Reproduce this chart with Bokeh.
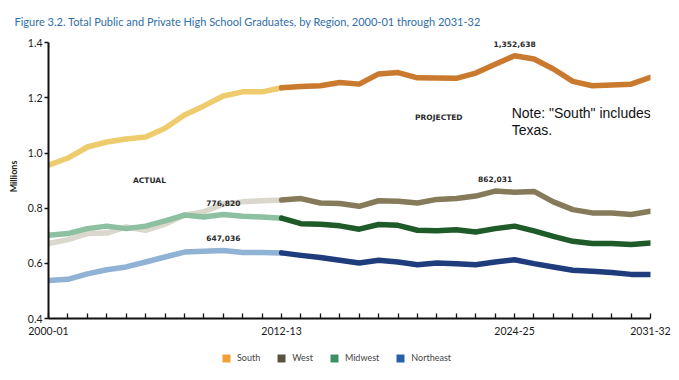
from bokeh.plotting import figure
from bokeh.layouts import column
from bokeh.models import Range1d, FixedTicker, Label, Legend, LegendItem, PrintfTickFormatter
from bokeh.embed import file_html
from bokeh.resources import INLINE

# ---- data (millions of graduates), index 0 = 2000-01 ... 31 = 2031-32; 12 = 2012-13 (last actual)
year_index = list(range(32))
last_actual = 12

south = [0.956, 0.982, 1.022, 1.040, 1.051, 1.058, 1.090, 1.138, 1.171, 1.207, 1.222, 1.222, 1.237,
         1.241, 1.244, 1.256, 1.250, 1.287, 1.292, 1.273, 1.272, 1.271, 1.290, 1.322, 1.353, 1.341,
         1.305, 1.260, 1.244, 1.247, 1.250, 1.275]
west = [0.672, 0.686, 0.708, 0.710, 0.732, 0.720, 0.742, 0.775, 0.787, 0.815, 0.823, 0.827, 0.830,
        0.835, 0.819, 0.817, 0.807, 0.827, 0.825, 0.819, 0.832, 0.835, 0.844, 0.862, 0.858, 0.861,
        0.823, 0.795, 0.783, 0.783, 0.777, 0.789]
midwest = [0.702, 0.708, 0.726, 0.735, 0.726, 0.735, 0.754, 0.775, 0.768, 0.777, 0.771, 0.768, 0.764,
           0.744, 0.742, 0.736, 0.724, 0.741, 0.738, 0.720, 0.718, 0.722, 0.714, 0.726, 0.735, 0.718,
           0.698, 0.680, 0.672, 0.672, 0.668, 0.674]
northeast = [0.538, 0.542, 0.562, 0.577, 0.587, 0.605, 0.623, 0.641, 0.644, 0.647, 0.639, 0.639, 0.638,
             0.629, 0.621, 0.611, 0.601, 0.611, 0.605, 0.595, 0.601, 0.599, 0.595, 0.605, 0.613, 0.599,
             0.587, 0.575, 0.571, 0.567, 0.560, 0.560]

regions = ["South", "West", "Midwest", "Northeast"]
series = [south, west, midwest, northeast]
actual_colors = ["#eecb6c", "#dad7cd", "#8cc0a1", "#90b2d4"]
projected_colors = ["#c97a2e", "#857b5a", "#1f5a29", "#1f3c7d"]
legend_colors = ["#f0a033", "#5a5142", "#3d9062", "#2461a9"]

peak_labels = ["1,352,638", "862,031", "776,820", "647,036"]
peak_index = [24, 23, 9, 9]
peak_series = [0, 1, 2, 3]

xtick_pos = [0, 12, 24, 31]
xtick_labels = ["2000-01", "2012-13", "2024-25", "2031-32"]
ytick_pos = [0.4, 0.6, 0.8, 1.0, 1.2, 1.4]

title_text = "Figure 3.2. Total Public and Private High School Graduates, by Region, 2000-01 through 2031-32"

# ---- main figure
p = figure(width=676, height=342, output_backend="svg", toolbar_location=None,
           title=title_text,
           x_range=Range1d(0, 31), y_range=Range1d(0.4, 1.43),
           min_border_left=48, min_border_right=26, min_border_top=34, min_border_bottom=24)
p.title.align = "left"
p.title.offset = -34
p.title.standoff = 13
p.title.text_font = "Lato"
p.title.text_font_size = "11px"
p.title.text_font_style = "normal"
p.title.text_color = "#2f6ea9"
p.outline_line_color = None
p.xgrid.visible = False
p.ygrid.visible = False
p.background_fill_color = "white"

for s, ac, pc in zip(series, actual_colors, projected_colors):
    p.line(year_index[:last_actual + 1], s[:last_actual + 1], line_color=ac, line_width=5.5,
           line_join="round", line_cap="round")
    p.line(year_index[last_actual:], s[last_actual:], line_color=pc, line_width=5.5,
           line_join="round", line_cap="round")

# axes
xa = p.xaxis[0]
xa.ticker = FixedTicker(ticks=year_index)
overrides = {i: "" for i in year_index}
overrides.update({pos: lab for pos, lab in zip(xtick_pos, xtick_labels)})
xa.major_label_overrides = overrides
xa.major_tick_in = 5
xa.major_tick_out = 0
xa.minor_tick_line_color = None
xa.axis_line_width = 2
xa.axis_line_color = "#111111"
xa.major_tick_line_color = "#111111"
xa.major_tick_line_width = 1.3
xa.major_label_standoff = 8
xa.major_label_text_font = "Lato"
xa.major_label_text_font_size = "10.5px"
xa.major_label_text_color = "#1a1a1a"

ya = p.yaxis[0]
ya.ticker = FixedTicker(ticks=ytick_pos)
ya.bounds = (0.4, 1.4)
ya.formatter = PrintfTickFormatter(format="%.1f")
ya.major_tick_in = 0
ya.major_tick_out = 4
ya.minor_tick_line_color = None
ya.axis_line_width = 2
ya.axis_line_color = "#111111"
ya.major_tick_line_color = "#111111"
ya.major_tick_line_width = 1.3
ya.major_label_standoff = 2
ya.major_label_text_font = "Lato"
ya.major_label_text_font_size = "10.5px"
ya.major_label_text_color = "#1a1a1a"
ya.axis_label = "Millions"
ya.axis_label_text_font = "Lato"
ya.axis_label_text_font_size = "9px"
ya.axis_label_text_font_style = "bold"
ya.axis_label_text_color = "#222222"
ya.axis_label_standoff = 6

# peak value labels
for lab, idx, si in zip(peak_labels, peak_index, peak_series):
    p.add_layout(Label(x=idx, y=series[si][idx], text=lab, y_offset=12, text_align="center",
                       text_baseline="middle", text_font="DejaVu Sans", text_font_size="7.5px",
                       text_font_style="bold", text_color="#2a2a2a"))

# section labels
p.add_layout(Label(x=5.2, y=0.90, text="ACTUAL", text_align="center", text_baseline="middle",
                   text_font="DejaVu Sans", text_font_size="7.5px", text_font_style="bold",
                   text_color="#2a2a2a"))
p.add_layout(Label(x=20.1, y=1.13, text="PROJECTED", text_align="center", text_baseline="middle",
                   text_font="DejaVu Sans", text_font_size="7.5px", text_font_style="bold",
                   text_color="#2a2a2a"))

# note
p.add_layout(Label(x=23.85, y=1.147, text="Note: \"South\" includes", text_align="left",
                   text_baseline="middle", text_font="Liberation Sans", text_font_size="14px",
                   text_color="#111111"))
p.add_layout(Label(x=23.85, y=1.085, text="Texas.", text_align="left",
                   text_baseline="middle", text_font="Liberation Sans", text_font_size="14px",
                   text_color="#111111"))

# ---- legend strip below the chart
lg = figure(width=676, height=34, output_backend="svg", toolbar_location=None,
            x_range=Range1d(0, 676), y_range=Range1d(0, 34),
            x_axis_type=None, y_axis_type=None, min_border=0)
lg.title.visible = False
lg.outline_line_color = None
lg.xgrid.visible = False
lg.ygrid.visible = False

nan = float("nan")
items = []
for name, c in zip(regions, legend_colors):
    # placeholder renderer (NaN geometry draws nothing) that only supplies the legend swatch
    r = lg.quad(left=[nan], right=[nan], top=[nan], bottom=[nan], fill_color=c, line_color=None)
    items.append(LegendItem(label=name, renderers=[r]))
legend = Legend(items=items, orientation="horizontal", location=(173, 13),
                glyph_width=10, glyph_height=10, label_standoff=6, spacing=16,
                padding=0, margin=0, border_line_color=None, background_fill_alpha=0,
                label_text_font="Lato", label_text_font_size="9px", label_text_color="#444444",
                label_height=10)
lg.add_layout(legend, "center")

layout = column(p, lg, spacing=0)
open("out.html", "w").write(file_html(layout, INLINE))
